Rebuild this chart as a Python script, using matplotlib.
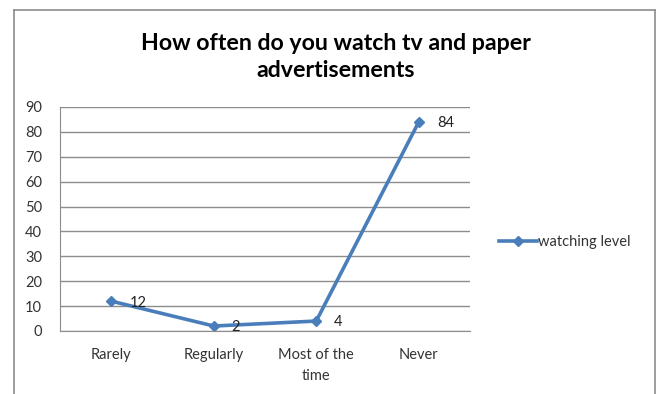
import matplotlib.pyplot as plt
from matplotlib.lines import Line2D

categories = ['Rarely', 'Regularly', 'Most of the\ntime', 'Never']
watching = [12, 2, 4, 84]
y_ticks = list(range(0, 91, 10))

plt.rcParams['font.family'] = ['Lato', 'DejaVu Sans']

fig = plt.figure(figsize=(6.62, 3.94), dpi=100)

# outer chart border (bottom edge falls outside the image)
for xs, ys in [([14, 14], [394, 10]), ([14, 655], [10, 10]), ([655, 655], [10, 394])]:
    fig.add_artist(Line2D([x / 662 for x in xs], [1 - y / 394 for y in ys],
                          color='#8c8c8c', lw=1.2))

ax = fig.add_axes([60 / 662, 1 - 331 / 394, 410 / 662, 224 / 394])
x = range(len(categories))
line, = ax.plot(x, watching, color='#4a7ebb', lw=2.6, marker='D', markersize=5.5,
                label='watching level')
for xi, v in zip(x, watching):
    ax.annotate(str(v), (xi, v), xytext=(13, -1), textcoords='offset points',
                fontsize=10.5, color='#222222', va='center')

ax.set_xlim(-0.5, len(categories) - 0.5)
ax.set_ylim(0, 90)
ax.set_yticks(y_ticks)
ax.set_xticks(list(x))
ax.set_xticklabels(categories, fontsize=10.5, color='#333333', linespacing=1.7)
ax.tick_params(axis='y', labelsize=10.5, labelcolor='#333333', length=0, pad=13)
ax.tick_params(axis='x', length=0, pad=12)
ax.grid(axis='y', color='#8c8c8c', lw=1)
ax.set_axisbelow(True)
for side in ['top', 'right']:
    ax.spines[side].set_visible(False)
ax.spines['left'].set_color('#8c8c8c')
ax.spines['bottom'].set_color('#8c8c8c')

fig.text(336 / 662, 1 - 57 / 394, 'How often do you watch tv and paper\nadvertisements',
         ha='center', va='center', fontsize=16.7, fontweight='bold', linespacing=1.4)

fig.legend(handles=[line], loc='center left', bbox_to_anchor=(486 / 662, 1 - 242 / 394),
           frameon=False, fontsize=10.5, handlelength=2.6, handletextpad=0.1,
           labelcolor='#333333')

fig.savefig('out.png', dpi=100)
